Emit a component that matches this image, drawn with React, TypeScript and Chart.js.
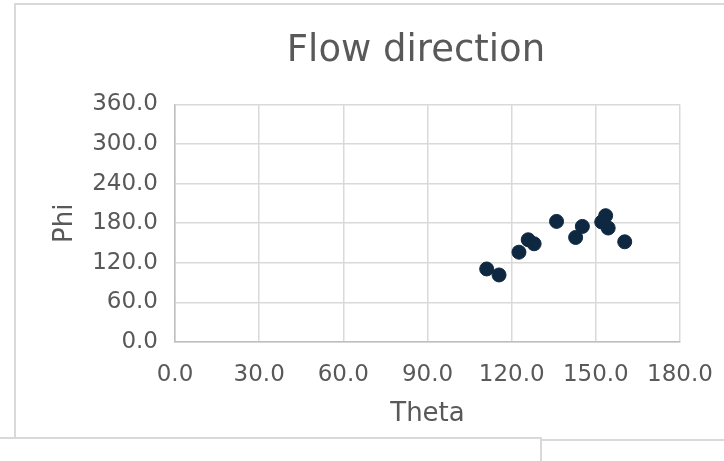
import React, { useEffect, useRef } from "react";
import { Chart, registerables } from "chart.js";

Chart.register(...registerables);

const chartTitle = "Flow direction";
const xTitle = "Theta";
const yTitle = "Phi";
const thetaValues = [111.1, 115.5, 122.6, 125.9, 128.0, 136.0, 142.8, 145.2, 153.5, 152.1, 154.4, 160.3];
const phiValues = [110.7, 101.6, 136.1, 154.9, 148.8, 182.7, 158.4, 175.1, 191.4, 181.8, 172.7, 151.8];
const xRange = [0, 180, 30];
const yRange = [0, 360, 60];

const TEXT = "#595959";
const GRID = "#d9d9d9";
const AXIS = "#bfbfbf";
const POINT = "#0e2841";
const FONT = "'DejaVu Sans', sans-serif";

const CANVAS_W = 802;
const CANVAS_H = 461;

export default function App() {
  const ref = useRef<HTMLCanvasElement | null>(null);

  useEffect(() => {
    document.body.style.margin = "0";
    const ctx = ref.current;
    if (!ctx) return;
    const data = thetaValues.map((t, i) => ({ x: t, y: phiValues[i] }));
    const chart = new Chart(ctx, {
      type: "scatter",
      data: {
        datasets: [
          {
            label: "Flow",
            data,
            backgroundColor: POINT,
            borderColor: POINT,
            pointRadius: 7,
            pointHoverRadius: 7,
          },
        ],
      },
      options: {
        animation: false,
        responsive: false,
        maintainAspectRatio: false,
        layout: { padding: 0 },
        plugins: {
          legend: { display: false },
          tooltip: { enabled: false },
          title: {
            display: true,
            text: chartTitle,
            color: TEXT,
            font: { family: FONT, size: 37, weight: "normal" },
            padding: { top: 29, bottom: 31 },
          },
        },
        scales: {
          x: {
            type: "linear",
            min: xRange[0],
            max: xRange[1],
            afterFit: (s: any) => {
              s.height = 119;
            },
            ticks: {
              stepSize: xRange[2],
              color: TEXT,
              padding: 19,
              font: { family: FONT, size: 23 },
              callback: (v: any) => Number(v).toFixed(1),
            },
            grid: { color: GRID, lineWidth: 1.5, drawTicks: false },
            border: { color: AXIS, width: 1.5 },
            title: {
              display: true,
              text: xTitle,
              color: TEXT,
              font: { family: FONT, size: 26 },
              padding: { top: 0, bottom: 31 },
            },
          },
          y: {
            type: "linear",
            min: yRange[0],
            max: yRange[1],
            afterFit: (s: any) => {
              s.width = 160;
            },
            ticks: {
              stepSize: yRange[2],
              color: TEXT,
              padding: 17,
              font: { family: FONT, size: 23 },
              callback: (v: any) => Number(v).toFixed(1),
            },
            grid: { color: GRID, lineWidth: 1.5, drawTicks: false },
            border: { color: AXIS, width: 1.5 },
            title: {
              display: true,
              text: yTitle,
              color: TEXT,
              font: { family: FONT, size: 26 },
              padding: { top: 35, bottom: 0 },
            },
          },
          yRight: {
            type: "linear",
            position: "right",
            min: yRange[0],
            max: yRange[1],
            display: true,
            afterFit: (s: any) => {
              s.width = 137;
            },
            ticks: { display: false },
            grid: { display: false, drawTicks: false },
            border: { display: false },
          },
        },
      },
    });
    return () => chart.destroy();
  }, []);

  return (
    <div style={{ position: "fixed", left: 0, top: 0, width: 724, height: 461, overflow: "hidden", background: "#fff" }}>
      <div
        style={{
          position: "absolute",
          left: 14,
          top: 3,
          width: 800,
          height: 434,
          border: "2px solid #d9d9d9",
          background: "#fff",
        }}
      />
      <canvas
        ref={ref}
        width={CANVAS_W}
        height={CANVAS_H}
        style={{ position: "absolute", left: 15, top: 0, width: CANVAS_W, height: CANVAS_H }}
      />
      <div
        style={{
          position: "absolute",
          left: -10,
          top: 437,
          width: 548,
          height: 60,
          border: "2px solid #d9d9d9",
          background: "#fff",
        }}
      />
    </div>
  );
}
